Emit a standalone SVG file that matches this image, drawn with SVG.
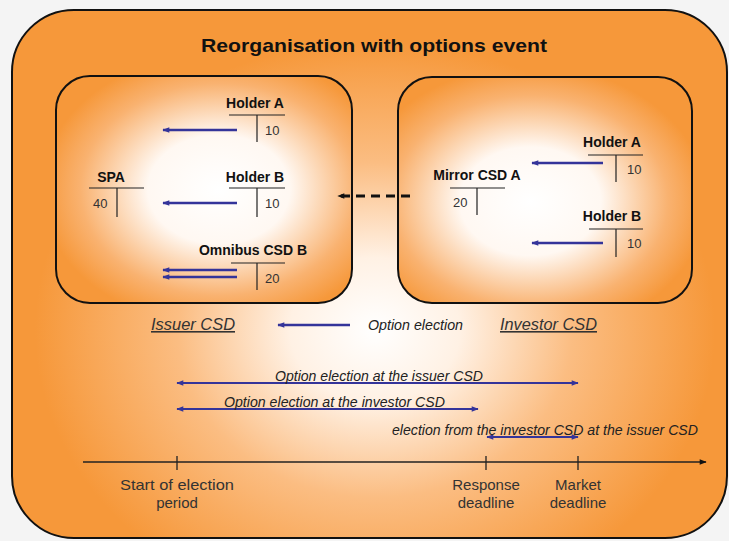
<svg xmlns="http://www.w3.org/2000/svg" width="729" height="541" viewBox="0 0 729 541">
  <defs>
    <radialGradient id="gOuter" gradientUnits="userSpaceOnUse" cx="375" cy="330" r="340" gradientTransform="translate(375 330) scale(1 0.85) translate(-375 -330)">
      <stop offset="0" stop-color="#ffffff"/>
      <stop offset="0.25" stop-color="#fff1e4"/>
      <stop offset="0.58" stop-color="#fbbd82"/>
      <stop offset="1" stop-color="#f6983a"/>
    </radialGradient>
    <radialGradient id="gInnerL" cx="0.55" cy="0.5" r="0.6">
      <stop offset="0" stop-color="#ffffff"/>
      <stop offset="0.4" stop-color="#fff8f2"/>
      <stop offset="0.78" stop-color="#f9b270"/>
      <stop offset="1" stop-color="#f6983a"/>
    </radialGradient>
    <radialGradient id="gInnerR" cx="0.45" cy="0.55" r="0.6">
      <stop offset="0" stop-color="#ffffff"/>
      <stop offset="0.4" stop-color="#fff8f2"/>
      <stop offset="0.78" stop-color="#f9b270"/>
      <stop offset="1" stop-color="#f6983a"/>
    </radialGradient>
    <marker id="mBlue" viewBox="0 0 10 10" refX="9" refY="5" markerUnits="userSpaceOnUse" markerWidth="8" markerHeight="7" orient="auto-start-reverse">
      <path d="M0,1 L10,5 L0,9 z" fill="#34349a"/>
    </marker>
    <marker id="mBlack" viewBox="0 0 10 10" refX="9" refY="5" markerUnits="userSpaceOnUse" markerWidth="8" markerHeight="7" orient="auto-start-reverse">
      <path d="M0,1 L10,5 L0,9 z" fill="#111"/>
    </marker>
  </defs>
  <style>
    .frame { stroke: #111; stroke-width: 2; }
    .acct { stroke: #222; stroke-width: 1.2; fill: none; }
    .flow { stroke: #34349a; stroke-width: 2.5; fill: none; }
    .span { stroke: #34349a; stroke-width: 2; fill: none; }
    .hdr { font-family: "Liberation Sans", Arial, sans-serif; font-weight: bold; font-size: 14px; fill: #111; text-anchor: middle; }
    .num { font-family: "Liberation Sans", Arial, sans-serif; font-size: 13px; fill: #333; }
    .ital { font-family: "Liberation Sans", Arial, sans-serif; font-style: italic; font-size: 14px; fill: #222; }
    .csd { font-family: "Liberation Sans", Arial, sans-serif; font-style: italic; font-size: 16px; fill: #333; text-decoration: underline; }
    .tl { font-family: "Liberation Sans", Arial, sans-serif; font-size: 15px; fill: #333; text-anchor: middle; }
  </style>

  <rect x="0" y="0" width="729" height="541" fill="#f4f4f4"/>

  <!-- Outer frame -->
  <g id="event">
    <rect class="frame" x="12" y="10" width="715" height="528" rx="62" ry="62" fill="url(#gOuter)"/>
    <text x="374" y="52" font-family="Liberation Sans, Arial, sans-serif" font-weight="bold" font-size="19" fill="#111" text-anchor="middle" textLength="346" lengthAdjust="spacingAndGlyphs">Reorganisation with options event</text>
  </g>

  <!-- Issuer CSD box -->
  <g id="issuer-csd">
    <rect class="frame" x="56" y="76" width="296" height="227" rx="34" ry="34" fill="url(#gInnerL)"/>
    <g id="issuer-holder-a">
      <text class="hdr" x="255" y="108">Holder A</text>
      <path class="acct" d="M229,115 H285 M257,115 V142"/>
      <text class="num" x="265" y="135">10</text>
    </g>
    <g id="issuer-spa">
      <text class="hdr" x="111" y="182">SPA</text>
      <path class="acct" d="M89,188 H144 M117,188 V217"/>
      <text class="num" x="93" y="208">40</text>
    </g>
    <g id="issuer-holder-b">
      <text class="hdr" x="255" y="182">Holder B</text>
      <path class="acct" d="M229,188 H285 M257,188 V217"/>
      <text class="num" x="265" y="208">10</text>
    </g>
    <g id="issuer-omnibus">
      <text class="hdr" x="253" y="255">Omnibus CSD B</text>
      <path class="acct" d="M231,263 H285 M257,263 V290"/>
      <text class="num" x="265" y="283">20</text>
    </g>
  </g>

  <!-- Investor CSD box -->
  <g id="investor-csd">
    <rect class="frame" x="398" y="77" width="294" height="226" rx="34" ry="34" fill="url(#gInnerR)"/>
    <g id="investor-holder-a">
      <text class="hdr" x="612" y="147">Holder A</text>
      <path class="acct" d="M588,155 H643 M616,155 V182"/>
      <text class="num" x="627" y="174">10</text>
    </g>
    <g id="investor-mirror">
      <text class="hdr" x="477" y="180">Mirror CSD A</text>
      <path class="acct" d="M450,188 H505 M477,188 V215"/>
      <text class="num" x="453" y="207">20</text>
    </g>
    <g id="investor-holder-b">
      <text class="hdr" x="612" y="221">Holder B</text>
      <path class="acct" d="M589,229 H643 M616,229 V257"/>
      <text class="num" x="627" y="248">10</text>
    </g>
  </g>

  <!-- Flows and timing spans -->
  <g id="connectors">
    <line class="flow" x1="237" y1="130" x2="163" y2="130" marker-end="url(#mBlue)"/>
    <line class="flow" x1="237" y1="203" x2="163" y2="203" marker-end="url(#mBlue)"/>
    <line class="flow" x1="237" y1="270" x2="163" y2="270" marker-end="url(#mBlue)"/>
    <line class="flow" x1="237" y1="277" x2="163" y2="277" marker-end="url(#mBlue)"/>
    <line class="flow" x1="603" y1="163" x2="532" y2="163" marker-end="url(#mBlue)"/>
    <line class="flow" x1="603" y1="243" x2="532" y2="243" marker-end="url(#mBlue)"/>
    <line x1="410" y1="196" x2="338" y2="196" stroke="#111" stroke-width="3" stroke-dasharray="9 6" marker-end="url(#mBlack)"/>
    <line class="flow" x1="350" y1="325" x2="278" y2="325" marker-end="url(#mBlue)"/>
    <line class="span" x1="177" y1="383" x2="578" y2="383" marker-start="url(#mBlue)" marker-end="url(#mBlue)"/>
    <line class="span" x1="177" y1="409" x2="478" y2="409" marker-start="url(#mBlue)" marker-end="url(#mBlue)"/>
    <line class="span" x1="487" y1="437" x2="578" y2="437" marker-start="url(#mBlue)" marker-end="url(#mBlue)"/>
  </g>

  <!-- Legend labels -->
  <g id="legend">
    <text class="csd" x="151" y="330" textLength="84" lengthAdjust="spacingAndGlyphs">Issuer CSD</text>
    <text class="ital" x="368" y="330" textLength="95" lengthAdjust="spacingAndGlyphs">Option election</text>
    <text class="csd" x="500" y="330" textLength="97" lengthAdjust="spacingAndGlyphs">Investor CSD</text>
    <text class="ital" x="275" y="381" textLength="208" lengthAdjust="spacingAndGlyphs">Option election at the issuer CSD</text>
    <text class="ital" x="224" y="407" textLength="221" lengthAdjust="spacingAndGlyphs">Option election at the investor CSD</text>
    <text class="ital" x="392" y="435" textLength="306" lengthAdjust="spacingAndGlyphs">election from the investor CSD at the issuer CSD</text>
  </g>

  <!-- Timeline -->
  <g id="timeline">
    <line x1="83" y1="462" x2="706" y2="462" stroke="#222" stroke-width="1.3" marker-end="url(#mBlack)"/>
    <path d="M177,456 V470 M486,456 V470 M578,456 V470" stroke="#222" stroke-width="1.3"/>
    <text class="tl" x="177" y="490" textLength="114" lengthAdjust="spacingAndGlyphs">Start of election</text>
    <text class="tl" x="177" y="508">period</text>
    <text class="tl" x="486" y="490">Response</text>
    <text class="tl" x="486" y="508">deadline</text>
    <text class="tl" x="578" y="490">Market</text>
    <text class="tl" x="578" y="508">deadline</text>
  </g>
</svg>
